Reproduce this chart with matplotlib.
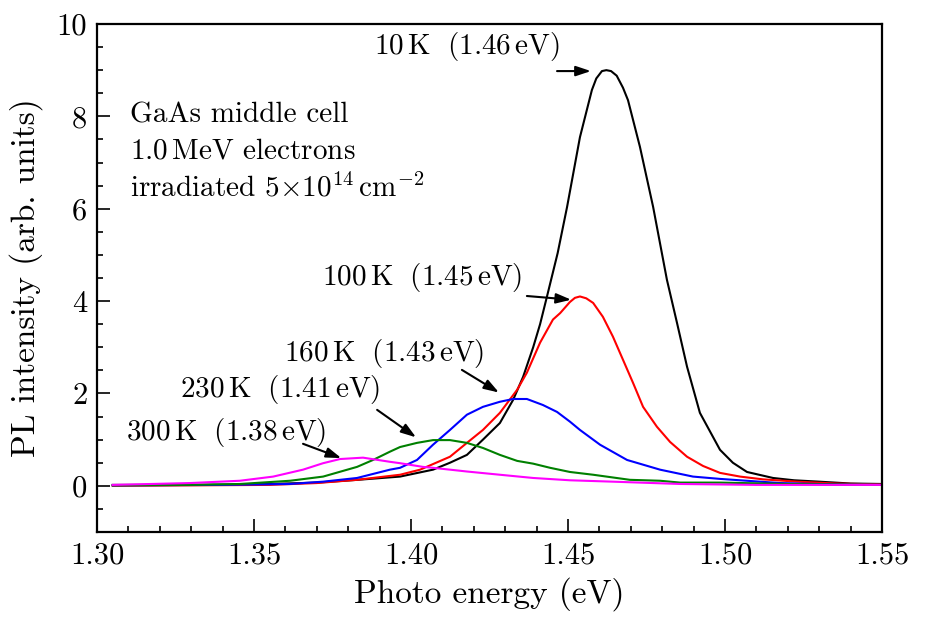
import matplotlib
matplotlib.use("Agg")
import matplotlib.pyplot as plt
from matplotlib.ticker import MultipleLocator, FormatStrFormatter

plt.rcParams['font.family'] = ['cmr10', 'DejaVu Serif']
plt.rcParams['mathtext.fontset'] = 'cm'
plt.rcParams['axes.unicode_minus'] = False
plt.rcParams['axes.formatter.use_mathtext'] = True

# ---- data ----
k10_x = [1.305, 1.33, 1.35, 1.37, 1.383, 1.3965, 1.407, 1.4124, 1.4178, 1.4229, 1.4283, 1.4325, 1.4357,
         1.4389, 1.4411, 1.4433, 1.4467, 1.4497, 1.4538, 1.4576, 1.4590, 1.4608, 1.4622, 1.4637,
         1.4655, 1.4675, 1.4691, 1.4729, 1.4771, 1.4815, 1.4847, 1.4879, 1.492, 1.4984, 1.5025,
         1.507, 1.5153, 1.522, 1.530, 1.54, 1.55]
k10_y = [0.02, 0.02, 0.03, 0.07, 0.13, 0.2, 0.35, 0.5, 0.67, 1.0, 1.36, 1.86, 2.36,
         3.0, 3.5, 4.1, 5.04, 6.04, 7.55, 8.57, 8.82, 8.98, 9.0, 8.98,
         8.88, 8.62, 8.35, 7.34, 6.04, 4.46, 3.53, 2.58, 1.58, 0.78, 0.5,
         0.3, 0.17, 0.12, 0.09, 0.05, 0.04]

k100_x = [1.305, 1.33, 1.355, 1.37, 1.3828, 1.3965, 1.4029, 1.4124, 1.4178, 1.4229, 1.4283, 1.4338,
          1.4369, 1.4411, 1.4452, 1.4475, 1.4506, 1.4522, 1.4538, 1.4558, 1.458, 1.4611, 1.4643,
          1.4675, 1.4707, 1.4739, 1.4783, 1.4825, 1.4879, 1.493, 1.4984, 1.5048, 1.5121, 1.523,
          1.535, 1.55]
k100_y = [0.0, 0.01, 0.02, 0.06, 0.13, 0.24, 0.35, 0.63, 0.93, 1.21, 1.58, 2.08,
          2.45, 3.1, 3.6, 3.74, 3.98, 4.07, 4.1, 4.06, 3.96, 3.66, 3.23,
          2.73, 2.23, 1.71, 1.28, 0.95, 0.63, 0.43, 0.28, 0.2, 0.14, 0.09,
          0.05, 0.03]

k160_x = [1.305, 1.34, 1.3615, 1.372, 1.3828, 1.3933, 1.3965, 1.4019, 1.407, 1.4124, 1.4178, 1.4229,
          1.4283, 1.4325, 1.4369, 1.442, 1.4465, 1.4506, 1.4538, 1.4602, 1.4688, 1.4793, 1.4898,
          1.4984, 1.5175, 1.535, 1.55]
k160_y = [0.01, 0.02, 0.04, 0.09, 0.17, 0.35, 0.39, 0.56, 0.89, 1.21, 1.54, 1.71,
          1.82, 1.88, 1.88, 1.75, 1.6, 1.39, 1.21, 0.89, 0.56, 0.35, 0.2,
          0.15, 0.06, 0.03, 0.02]

k230_x = [1.305, 1.33, 1.3455, 1.3615, 1.372, 1.3828, 1.3879, 1.3933, 1.3965, 1.4019, 1.407, 1.4124,
          1.4178, 1.4229, 1.4283, 1.4338, 1.4389, 1.4443, 1.4506, 1.458, 1.4697, 1.4793, 1.4857,
          1.4984, 1.52, 1.55]
k230_y = [0.01, 0.02, 0.04, 0.11, 0.2, 0.41, 0.56, 0.74, 0.84, 0.93, 0.99, 0.99,
          0.93, 0.82, 0.67, 0.54, 0.48, 0.39, 0.3, 0.24, 0.13, 0.11, 0.07,
          0.07, 0.04, 0.02]

k300_x = [1.305, 1.3296, 1.3455, 1.3561, 1.3656, 1.372, 1.3774, 1.3847, 1.3933, 1.3965, 1.4038,
          1.407, 1.4178, 1.4283, 1.4389, 1.4506, 1.4643, 1.4857, 1.51, 1.55]
k300_y = [0.02, 0.06, 0.11, 0.2, 0.35, 0.49, 0.58, 0.61, 0.52, 0.49, 0.41,
          0.39, 0.31, 0.24, 0.17, 0.12, 0.09, 0.04, 0.02, 0.02]

series = [
    (k10_x, k10_y, 'black'),
    (k100_x, k100_y, 'red'),
    (k160_x, k160_y, 'blue'),
    (k230_x, k230_y, 'green'),
    (k300_x, k300_y, 'magenta'),
]

labels = [r"$10\,\mathrm{K}\ \ (1.46\,\mathrm{eV})$",
          r"$100\,\mathrm{K}\ \ (1.45\,\mathrm{eV})$",
          r"$160\,\mathrm{K}\ \ (1.43\,\mathrm{eV})$",
          r"$230\,\mathrm{K}\ \ (1.41\,\mathrm{eV})$",
          r"$300\,\mathrm{K}\ \ (1.38\,\mathrm{eV})$"]
label_xy = [(1.4177, 9.52), (1.4035, 4.50), (1.3914, 2.86), (1.3583, 2.08), (1.3411, 1.15)]
arrow_from = [(1.4465, 8.98), (1.4369, 4.11), (1.4162, 2.51), (1.3892, 1.645), (1.3656, 0.91)]
arrow_to = [(1.4573, 8.98), (1.4510, 4.03), (1.4280, 2.02), (1.4016, 1.05), (1.3778, 0.60)]

fig = plt.figure(figsize=(9.26, 6.21), dpi=100)
ax = fig.add_axes([0.1048, 0.1433, 0.8477, 0.8181])

for x, y, c in series:
    ax.plot(x, y, color=c, lw=1.5)

for lab, (tx, ty), (ax0, ay0), (ax1, ay1) in zip(labels, label_xy, arrow_from, arrow_to):
    ax.text(tx, ty, lab, fontsize=21, ha='center', va='center')
    ax.annotate('', xy=(ax1, ay1), xytext=(ax0, ay0),
                arrowprops=dict(arrowstyle='-|>,head_length=0.9,head_width=0.3',
                                color='black', lw=1.5, shrinkA=0, shrinkB=0))

ax.text(1.3105, 8.03, "GaAs middle cell", fontsize=21, ha='left', va='center')
ax.text(1.3105, 7.25, r"$1.0\,$MeV electrons", fontsize=21, ha='left', va='center')
ax.text(1.3105, 6.45, r"irradiated $5{\times}10^{14}\,$cm$^{-2}$", fontsize=21, ha='left', va='center')

ax.set_xlim(1.30, 1.55)
ax.set_ylim(-1, 10)
ax.xaxis.set_major_locator(MultipleLocator(0.05))
ax.xaxis.set_minor_locator(MultipleLocator(0.01))
ax.yaxis.set_major_locator(MultipleLocator(2))
ax.yaxis.set_minor_locator(MultipleLocator(0.5))
ax.xaxis.set_major_formatter(FormatStrFormatter('%.2f'))
ax.yaxis.set_major_formatter(FormatStrFormatter('%d'))
ax.tick_params(which='both', direction='in', top=False, right=False, labelsize=22, width=1.2)
ax.tick_params(which='major', length=9.5, pad=7)
ax.tick_params(which='minor', length=4.5)
for s in ax.spines.values():
    s.set_linewidth(1.6)

ax.set_xlabel("Photo energy (eV)", fontsize=24, labelpad=6)
ax.set_ylabel("PL intensity (arb. units)", fontsize=24, labelpad=10)

fig.savefig("out.png", dpi=100)
